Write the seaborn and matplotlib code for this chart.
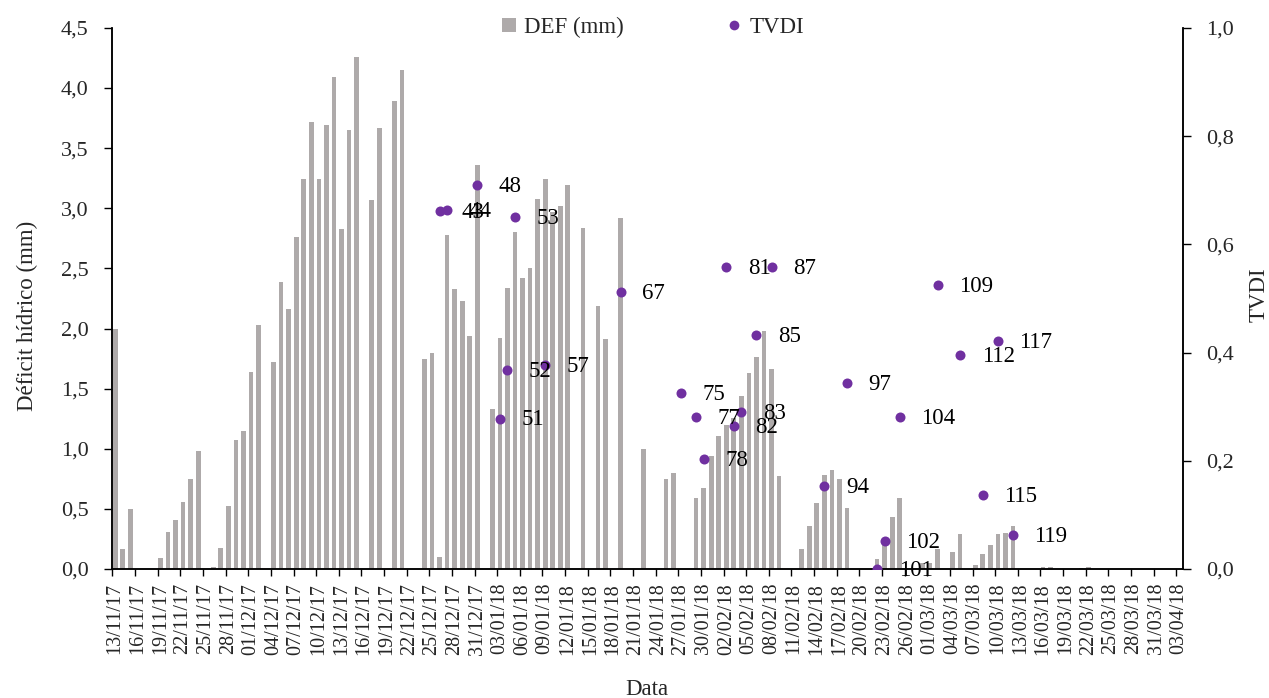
import matplotlib
matplotlib.use("Agg")
import matplotlib.pyplot as plt
from matplotlib.lines import Line2D
from matplotlib.ticker import FuncFormatter, FixedLocator
import numpy as np
import pandas as pd
import seaborn as sns

# daily water deficit (mm), 13/11/17 -> 03/04/18
start_date = "2017-11-13"
end_date = "2018-04-03"
def_mm = [
    2.00, 0.17, 0.50, 0, 0, 0, 0.09, 0.31, 0.41, 0.56,
    0.75, 0.98, 0, 0.02, 0.175, 0.52, 1.07, 1.15, 1.64, 2.03,
    0, 1.72, 2.39, 2.16, 2.76, 3.24, 3.72, 3.24, 3.69, 4.09,
    2.83, 3.65, 4.26, 0, 3.07, 3.67, 0, 3.89, 4.15, 0,
    0, 1.75, 1.80, 0.10, 2.78, 2.33, 2.23, 1.94, 3.36, 0,
    1.33, 1.92, 2.34, 2.80, 2.42, 2.50, 3.08, 3.24, 2.97, 3.02,
    3.19, 0, 2.84, 0, 2.19, 1.91, 0, 2.92, 0, 0,
    1.00, 0, 0, 0.75, 0.80, 0, 0, 0.59, 0.67, 0.94,
    1.11, 1.20, 1.26, 1.44, 1.63, 1.76, 1.98, 1.66, 0.77, 0,
    0, 0.17, 0.36, 0.55, 0.78, 0.82, 0.75, 0.51, 0, 0,
    0, 0.08, 0.22, 0.43, 0.59, 0, 0, 0.05, 0.05, 0.17,
    0, 0.14, 0.29, 0, 0.035, 0.125, 0.20, 0.29, 0.30, 0.36,
    0, 0, 0, 0.02, 0.02, 0, 0, 0, 0.01, 0.02,
    0, 0, 0, 0, 0, 0, 0, 0, 0, 0, 0, 0,
]

# TVDI observations (day index since 13/11/17 is also the point label)
tvdi_day = [43, 44, 48, 51, 52, 53, 57, 67, 75, 77, 78, 81, 82, 83, 85, 87,
            94, 97, 101, 102, 104, 109, 112, 115, 117, 119]
tvdi_val = [0.661, 0.663, 0.709, 0.278, 0.367, 0.650, 0.377, 0.512, 0.326,
            0.281, 0.204, 0.558, 0.264, 0.290, 0.433, 0.558, 0.153, 0.344,
            0.0, 0.051, 0.281, 0.524, 0.396, 0.137, 0.421, 0.062]

bar_color = "#AEAAAA"
dot_color = "#7030A0"

dates = pd.date_range(start_date, end_date, freq="D")
df = pd.DataFrame({"day": np.arange(len(dates)), "DEF": def_mm})
tv = pd.DataFrame({"day": tvdi_day, "TVDI": tvdi_val})

sns.set_style("ticks")
plt.rcParams["font.family"] = ["Liberation Serif", "DejaVu Serif"]

fig = plt.figure(figsize=(12.69, 6.98), dpi=100)
ax = fig.add_axes([0.0885, 0.1848, 0.8435, 0.7752])

sns.barplot(data=df, x="day", y="DEF", native_scale=True, width=0.62,
            color=bar_color, saturation=1, errorbar=None, linewidth=0, ax=ax)

ax2 = ax.twinx()
sns.scatterplot(data=tv, x="day", y="TVDI", color=dot_color, s=52,
                linewidth=0, ax=ax2, zorder=3)
for d, v in zip(tvdi_day, tvdi_val):
    ax2.annotate(str(d), (d, v), xytext=(15.5, -1), textcoords="offset points",
                 va="center", ha="left", fontsize=16.5, color="black")

ax.set_xlim(-0.38, 141.5)
ax.set_ylim(0, 4.5)
ax2.set_ylim(0, 1.0)

# x ticks: labels on day, tick marks slightly left of the bar
lab_pos = np.arange(0, len(dates), 3)
ax.xaxis.set_major_locator(FixedLocator(lab_pos))
ax.set_xticklabels(dates[lab_pos].strftime("%d/%m/%y"), rotation=90)
ax.xaxis.set_minor_locator(FixedLocator(lab_pos - 0.36))
ax.tick_params(axis="x", which="major", length=0, pad=10, labelsize=14.5)
ax.tick_params(axis="x", which="minor", length=5, width=1, direction="out", color="black")

comma = FuncFormatter(lambda v, p: f"{v:.1f}".replace(".", ","))
ax.set_yticks(np.arange(0, 4.51, 0.5))
ax.yaxis.set_major_formatter(comma)
ax2.set_yticks(np.arange(0, 1.01, 0.2))
ax2.yaxis.set_major_formatter(comma)
ax.tick_params(axis="y", length=6, width=1, pad=11, labelsize=16, color="black")
ax2.tick_params(axis="y", length=6, width=1, pad=11, labelsize=16, color="black")

for a in (ax, ax2):
    a.spines["top"].set_visible(False)
    for s in ("left", "right", "bottom"):
        a.spines[s].set_linewidth(1.1)
        a.spines[s].set_color("black")

ax.set_xlabel("Data", fontsize=16.5)
ax.set_ylabel("Déficit hídrico (mm)", fontsize=16.5)
ax2.set_ylabel("TVDI", fontsize=16.5)
ax.xaxis.set_label_coords(0.4995, -0.204)
ax.yaxis.set_label_coords(-0.069, 0.467)
ax2.yaxis.set_label_coords(1.062, 0.507)

handles = [
    Line2D([], [], linestyle="none", marker="s", markersize=9.5,
           markerfacecolor=bar_color, markeredgewidth=0),
    Line2D([], [], linestyle="none", marker="o", markersize=7,
           markerfacecolor=dot_color, markeredgewidth=0),
]
fig.legend(handles, ["DEF (mm)", "TVDI"], loc="center", ncol=2,
           bbox_to_anchor=(0.514, 0.961), bbox_transform=fig.transFigure,
           frameon=False, fontsize=16.5, handlelength=0.7, handletextpad=0.3,
           columnspacing=4.5, borderpad=0)

fig.savefig("out.png", dpi=100)
